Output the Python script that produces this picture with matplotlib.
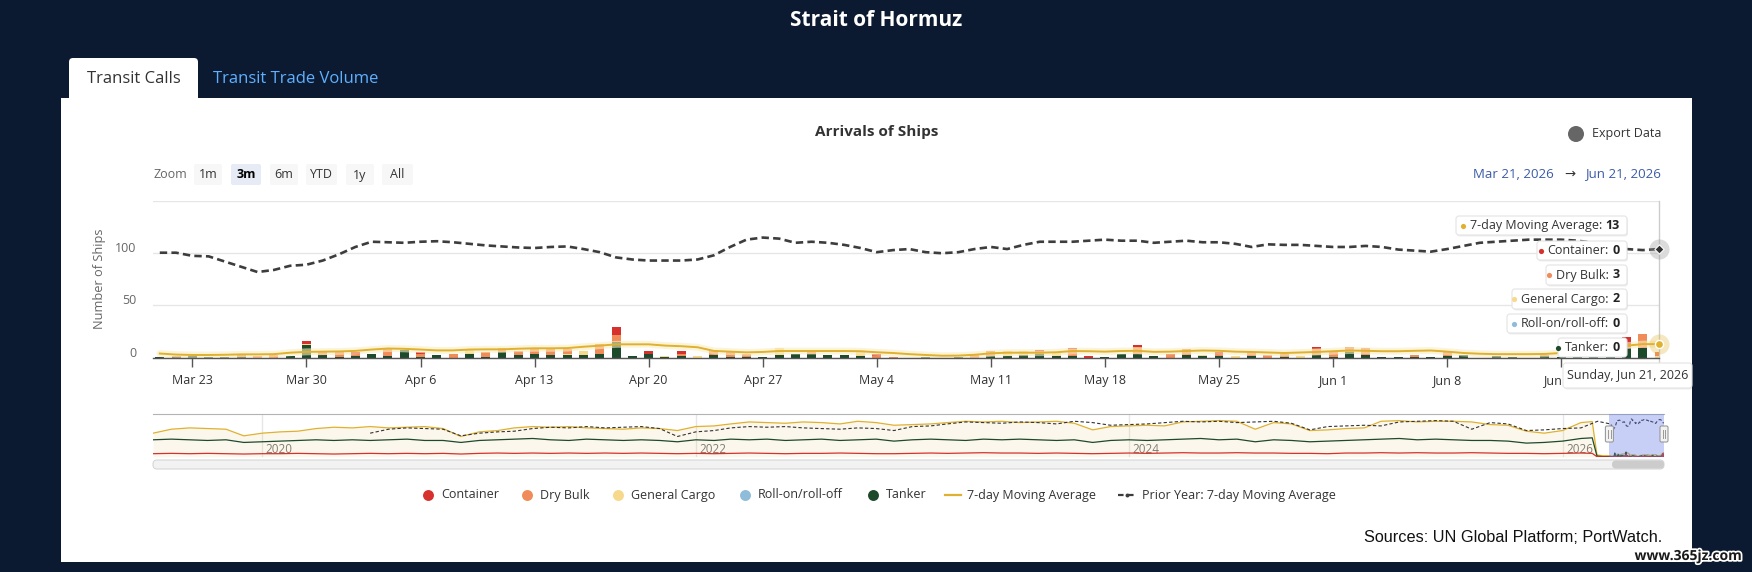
import numpy as np
import pandas as pd
import matplotlib
matplotlib.use("Agg")
import matplotlib.pyplot as plt
import matplotlib.dates as mdates
from matplotlib.patches import FancyBboxPatch, Rectangle, Circle
from matplotlib import patheffects as pe
from matplotlib.transforms import ScaledTranslation

plt.rcParams['font.family'] = ['Open Sans', 'DejaVu Sans']

W, H = 1752, 572

# daily arrivals, Mar 21 - Jun 21 2026
days = pd.date_range("2026-03-21", "2026-06-21", freq="D")

tanker = [1, 1, 2, 1, 1, 1, 0, 0, 2, 12,
          3, 1, 2, 4, 2, 7, 1, 3, 0, 4,
          1, 5, 3, 4, 3, 3, 3, 4, 15, 2,
          4, 1, 2, 0, 3, 1, 1, 1, 3, 4,
          4, 3, 3, 2, 0, 0, 0, 1, 0, 1,
          0, 2, 2, 3, 4, 2, 2, 0, 1, 4,
          4, 2, 0, 3, 2, 2, 0, 2, 0, 1,
          0, 3, 1, 5, 3, 1, 1, 1, 1, 2,
          3, 0, 2, 1, 0, 2, 1, 2, 3, 5,
          9, 9, 0]
roro = [0, 0, 0, 0, 0, 0, 0, 0, 0, 0,
        0, 0, 0, 0, 0, 0, 0, 0, 0, 0,
        0, 0, 0, 0, 0, 0, 0, 0, 0, 0,
        0, 0, 0, 0, 0, 0, 0, 0, 0, 0,
        0, 0, 0, 0, 0, 0, 0, 0, 0, 0,
        0, 0, 0, 0, 0, 0, 0, 0, 0, 0,
        0, 0, 0, 0, 0, 0, 0, 0, 0, 0,
        0, 0, 0, 0, 0, 0, 0, 0, 0, 0,
        0, 0, 0, 0, 0, 0, 0, 0, 0, 0,
        0, 0, 0]
general_cargo = [0, 0, 0, 0, 0, 0, 0, 0, 0, 1,
                 0, 0, 0, 0, 0, 0, 0, 0, 0, 3,
                 0, 0, 0, 0, 0, 1, 3, 0, 0, 0,
                 0, 1, 0, 2, 0, 0, 0, 0, 6, 0,
                 0, 0, 0, 3, 0, 0, 0, 0, 0, 0,
                 0, 0, 4, 3, 0, 3, 0, 0, 0, 0,
                 0, 0, 0, 0, 1, 0, 2, 0, 0, 0,
                 2, 0, 0, 0, 0, 0, 0, 0, 0, 0,
                 0, 0, 0, 0, 0, 0, 0, 0, 0, 0,
                 0, 0, 2]
dry_bulk = [0, 1, 0, 0, 0, 3, 2, 3, 0, 0,
            2, 5, 2, 0, 7, 0, 3, 0, 4, 0,
            4, 4, 3, 4, 5, 4, 0, 9, 7, 0,
            0, 0, 2, 0, 4, 4, 3, 0, 0, 0,
            1, 0, 0, 0, 2, 1, 0, 0, 0, 0,
            3, 4, 0, 0, 2, 0, 6, 0, 0, 0,
            6, 0, 3, 5, 0, 2, 0, 3, 3, 3,
            0, 5, 4, 5, 6, 0, 0, 2, 0, 3,
            0, 0, 0, 0, 0, 1, 0, 1, 2, 2,
            1, 14, 3]
container = [0, 0, 0, 0, 0, 0, 0, 0, 0, 3,
             1, 0, 1, 0, 0, 0, 1, 0, 0, 0,
             0, 0, 0, 1, 0, 0, 0, 0, 7, 0,
             2, 0, 2, 0, 0, 0, 0, 0, 0, 0,
             0, 0, 0, 0, 2, 0, 0, 0, 0, 0,
             0, 0, 0, 0, 1, 0, 1, 2, 0, 0,
             2, 0, 1, 0, 0, 1, 0, 0, 0, 0,
             0, 2, 0, 0, 0, 0, 0, 0, 0, 1,
             0, 0, 0, 0, 0, 0, 0, 0, 0, 1,
             10, 0, 0]
moving_avg = [4, 3, 2.6, 2.6, 2.8, 3.2, 3.2, 3.4, 4.8, 5.6,
              5.8, 6, 6.5, 7.8, 8.8, 8.5, 7.8, 7, 7, 7.8,
              8, 8, 8.6, 9, 9, 9.2, 10.5, 11.5, 12.8, 12.8,
              12.8, 11.6, 11, 10, 6.5, 5.8, 5.1, 5.5, 6.4, 6.4,
              6.4, 6.4, 6.4, 6.2, 5.2, 4.5, 3.4, 2.6, 1.9, 2,
              2.8, 4.2, 4.8, 4.8, 4.8, 5.2, 6.4, 6.2, 5.8, 6.4,
              6.6, 5.6, 5.8, 6.4, 6.9, 6.6, 5.8, 5.5, 5, 4.5,
              5, 5.5, 6.2, 6.9, 6.6, 6.2, 6.2, 6.6, 6.9, 5.8,
              4.5, 3.8, 3.4, 3.4, 3.4, 3.6, 4.5, 6, 8, 10,
              11.5, 13, 13]
prior_year_avg = [100.5, 100.5, 97.5, 97, 92, 87, 82, 84, 88, 89,
                  93, 99, 106, 111, 110.5, 110, 111, 111.5, 110.5, 109,
                  107.5, 106.5, 105.5, 105, 106, 106.5, 104, 101, 96, 94,
                  93, 93, 93, 94, 98, 106, 113, 115, 114, 110,
                  111, 110, 108, 105, 101, 103, 104, 101, 100, 101,
                  104, 106, 104, 108, 111, 111, 111, 112, 113, 112,
                  112, 110, 111, 112, 110.5, 110.5, 109, 106, 108.5, 108,
                  108, 107, 106, 106, 107, 106, 103.5, 102.5, 101.5, 104,
                  107, 110, 111, 112, 113, 113, 113, 112, 110, 107,
                  104, 103, 104]

# navigator history, monthly Jul 2019 - Feb 2026
nav_months = pd.date_range("2019-07-01", periods=80, freq="MS")
nav_total = [72, 84, 88, 86, 84, 64,
             72, 76, 78, 86, 90, 88, 92, 88, 90, 92, 86, 62,
             76, 80, 88, 92, 90, 92, 88, 86, 84, 88, 86, 80,
             92, 94, 100, 106, 104, 102, 106, 104, 100, 108, 104, 96,
             98, 100, 104, 108, 106, 108, 104, 106, 108, 102, 82, 92,
             94, 96, 94, 106, 108, 110, 108, 84, 104, 100, 80, 82,
             86, 88, 108, 110, 106, 108, 108, 106, 98, 96, 78, 72,
             80, 104]
nav_tanker = [52, 54, 52, 50, 52, 44,
              46, 48, 50, 52, 50, 52, 50, 52, 54, 50, 50, 44,
              50, 52, 54, 56, 52, 50, 54, 52, 50, 52, 50, 46,
              52, 50, 54, 52, 54, 50, 52, 54, 50, 52, 54, 48,
              52, 54, 52, 50, 54, 52, 54, 52, 50, 52, 44, 50,
              52, 50, 52, 54, 56, 52, 54, 46, 52, 50, 46, 48,
              50, 52, 54, 56, 52, 54, 52, 50, 50, 48, 42, 44,
              48, 56]
nav_container = [10, 11, 10, 11, 10, 9,
                 10, 10, 11, 10, 9, 10, 11, 10, 11, 10, 11, 9,
                 11, 12, 11, 12, 11, 12, 11, 12, 11, 12, 11, 10,
                 11, 10, 11, 12, 11, 10, 11, 11, 12, 11, 10, 10,
                 11, 12, 11, 12, 13, 12, 12, 11, 12, 11, 10, 11,
                 12, 11, 12, 13, 12, 12, 13, 12, 12, 11, 11, 10,
                 12, 12, 13, 12, 13, 12, 12, 13, 12, 11, 11, 10,
                 11, 12]
nav_tail_dates = pd.to_datetime(["2026-02-20", "2026-02-28", "2026-03-10"])
nav_tail_total = [107, 6, 4]
nav_tail_tanker = [58, 3, 1]
nav_tail_container = [11, 1, 0]

week_ticks = pd.date_range("2026-03-23", "2026-06-15", freq="7D")
year_ticks = ["2020-01-01", "2022-01-01", "2024-01-01", "2026-01-01"]
zoom_buttons = ["1m", "3m", "6m", "YTD", "1y", "All"]

NAVY = "#0b1a30"
C_CONT = "#d7312e"
C_DRY = "#ef8c59"
C_GEN = "#f6d98c"
C_RORO = "#8fbcd9"
C_TANK = "#1d4a2b"
C_MA = "#e0b12e"
C_PRIOR = "#3d3d3d"

fig = plt.figure(figsize=(W / 100, H / 100), dpi=100, facecolor=NAVY)
renderer = fig.canvas.get_renderer()


def px_axes(x0, y0, x1, y1, z):
    return fig.add_axes([x0 / W, 1 - y1 / H, (x1 - x0) / W, (y1 - y0) / H], zorder=z)


def overlay(z):
    a = fig.add_axes([0, 0, 1, 1], zorder=z)
    a.set_xlim(0, W)
    a.set_ylim(H, 0)
    a.axis("off")
    return a


bg = overlay(0)
top = overlay(10)

# page frame
bg.add_patch(Rectangle((61, 98), 1631, 464, fc="white", ec="none"))
bg.add_patch(FancyBboxPatch((69, 58), 129, 50, boxstyle="round,pad=0,rounding_size=4", fc="white", ec="none"))
bg.text(133.5, 79, "Transit Calls", ha="center", va="center", fontsize=12, color="#333333")
bg.text(296, 79, "Transit Trade Volume", ha="center", va="center", fontsize=12, color="#5fb0ff")
bg.text(876, 21, "Strait of Hormuz", ha="center", va="center", fontsize=15, fontweight="bold", color="white")

bg.text(877, 132, "Arrivals of Ships", ha="center", va="center", fontsize=11, fontweight="bold", color="#333333")
bg.add_patch(Circle((1576, 134), 8, fc="#666666", ec="none"))
bg.text(1592, 134, "Export Data", ha="left", va="center", fontsize=9, color="#333333")

bg.text(153, 175, "Zoom", ha="left", va="center", fontsize=9, color="#666666")
btn_x = [(194, 222), (231, 261), (270, 298), (306, 337), (346, 374), (382, 413)]
for label, (x0, x1) in zip(zoom_buttons, btn_x):
    sel = label == "3m"
    bg.add_patch(FancyBboxPatch((x0, 164), x1 - x0, 21, boxstyle="round,pad=0,rounding_size=2",
                                fc="#e6ebf5" if sel else "#f7f7f7", ec="none"))
    bg.text((x0 + x1) / 2, 175, label, ha="center", va="center", fontsize=9,
            fontweight="bold" if sel else "normal", color="#000000" if sel else "#333333")

# date range, laid out right to left
t_end = bg.text(1661, 174, f"{days[-1]:%b} {days[-1].day}, {days[-1].year}", ha="right", va="center",
                fontsize=9.5, color="#3a5ba8")
x_left = t_end.get_window_extent(renderer).x0
t_arrow = bg.text(x_left - 10, 174, "\u2192", ha="right", va="center", fontsize=9.5, color="#333333")
x_left = t_arrow.get_window_extent(renderer).x0
bg.text(x_left - 10, 174, f"{days[0]:%b} {days[0].day}, {days[0].year}", ha="right", va="center",
        fontsize=9.5, color="#3a5ba8")

bg.text(100, 279, "Number of Ships", rotation=90, ha="center", va="center", fontsize=9.2, color="#666666")

# main chart
ax = px_axes(153, 201, 1659, 357.7, 2)
ax.patch.set_alpha(0)
bottom = np.zeros(len(days))
for vals, color in [(tanker, C_TANK), (roro, C_RORO), (general_cargo, C_GEN), (dry_bulk, C_DRY), (container, C_CONT)]:
    v = np.array(vals, dtype=float)
    ax.bar(days, v, width=0.55, bottom=bottom, color=color, linewidth=0, zorder=2)
    bottom += v

ax.plot(days, moving_avg, color="#fbeec0", lw=5, alpha=0.6, zorder=2.5, solid_capstyle="round")
ax.plot(days, moving_avg, color=C_MA, lw=1.4, zorder=3)
ax.plot(days, prior_year_avg, color=C_PRIOR, lw=1.9, ls=(0, (2.8, 1.6)), zorder=3)

ax.axvline(days[-1], ymin=-0.07, ymax=1, color="#cccccc", lw=1, clip_on=False, zorder=1)
ax.scatter([days[-1]], [prior_year_avg[-1]], s=210, color="#999999", alpha=0.35, linewidths=0, clip_on=False, zorder=4)
ax.scatter([days[-1]], [prior_year_avg[-1]], s=22, marker="D", color="#333333", edgecolors="white", linewidths=0.8, clip_on=False, zorder=5)
ax.scatter([days[-1]], [moving_avg[-1]], s=210, color=C_MA, alpha=0.3, linewidths=0, clip_on=False, zorder=4)
ax.scatter([days[-1]], [moving_avg[-1]], s=34, color=C_MA, edgecolors="white", linewidths=1, clip_on=False, zorder=5)

ax.set_xlim(days[0] - pd.Timedelta(hours=10), days[-1])
ax.set_ylim(0, 150)
ax.set_yticks([0, 50, 100, 150])
ax.set_yticklabels(["0", "50", "100", ""])
ax.set_xticks(week_ticks)
ax.set_xticklabels([f"{d:%b} {d.day}" for d in week_ticks])
ax.grid(axis="y", color="#e6e6e6", lw=1, zorder=0)
ax.set_axisbelow(True)
for s in ["top", "right", "left"]:
    ax.spines[s].set_visible(False)
ax.spines["bottom"].set_color("#555555")
ax.spines["bottom"].set_linewidth(1)
ax.tick_params(axis="x", length=6.5, width=1, color="#555555", pad=5, labelsize=9, labelcolor="#333333")
ax.tick_params(axis="y", length=0, pad=12, labelsize=9, labelcolor="#666666")
for lbl in ax.get_yticklabels():
    lbl.set_transform(lbl.get_transform() + ScaledTranslation(0, 0.06, fig.dpi_scale_trans))

# navigator
nav = px_axes(153, 414, 1664, 457, 2)
nav.patch.set_alpha(0)
nav.set_xlim(pd.Timestamp("2019-07-01"), days[-1])
nav.set_ylim(0, 130)
nav.set_xticks([])
nav.set_yticks([])
for s in ["bottom", "right", "left"]:
    nav.spines[s].set_visible(False)
nav.spines["top"].set_color("#b3b3b3")
for y in year_ticks:
    t = pd.Timestamp(y)
    nav.axvline(t, color="#e6e6e6", lw=1, zorder=0)
    nav.text(t + pd.Timedelta(days=6), 4, y[:4], fontsize=8.5, color="#777777", va="bottom", ha="left", zorder=1)

x_total = list(nav_months) + list(nav_tail_dates) + list(days)
y_total = nav_total + nav_tail_total + moving_avg
y_tank = nav_tanker + nav_tail_tanker + tanker
y_cont = nav_container + nav_tail_container + container
prior_hist = [(d + pd.DateOffset(years=1), v) for d, v in zip(nav_months, nav_total)
              if d + pd.DateOffset(years=1) < days[0]]
x_prior = [d for d, _ in prior_hist] + list(days)
y_prior = [v for _, v in prior_hist] + prior_year_avg

nav.fill_between(x_total, y_total, color=C_MA, alpha=0.09, lw=0, zorder=1)
nav.plot(x_total, y_total, color=C_MA, lw=0.9, zorder=2)
nav.plot(x_prior, y_prior, color="#333333", lw=0.8, ls=(0, (3, 2)), zorder=2)
nav.plot(x_total, y_tank, color=C_TANK, lw=0.9, zorder=2)
nav.plot(x_total, y_cont, color=C_CONT, lw=0.9, zorder=2)
nav.axvspan(days[0], days[-1], color=(0.39, 0.47, 0.9, 0.35), lw=0, zorder=4)

for d in [days[0], days[-1]]:
    xd = nav.transData.transform((mdates.date2num(d), 0))[0]
    top.add_patch(FancyBboxPatch((xd - 4, 426), 8, 16, boxstyle="round,pad=0,rounding_size=1.5",
                                 fc="#f2f2f2", ec="#999999", lw=0.8))
    top.plot([xd - 1.3, xd - 1.3], [430, 438], color="#999999", lw=0.7)
    top.plot([xd + 1.3, xd + 1.3], [430, 438], color="#999999", lw=0.7)

bg.add_patch(FancyBboxPatch((153, 460), 1511, 9, boxstyle="round,pad=0,rounding_size=4",
                            fc="#f2f2f2", ec="#d6d6d6", lw=0.8))
bg.add_patch(FancyBboxPatch((1612, 460.5), 52, 8, boxstyle="round,pad=0,rounding_size=4",
                            fc="#cccccc", ec="none"))

# legend
legend_items = [("Container", C_CONT, 428), ("Dry Bulk", C_DRY, 527), ("General Cargo", C_GEN, 618),
                ("Roll-on/roll-off", C_RORO, 745), ("Tanker", C_TANK, 873)]
for name, color, x in legend_items:
    bg.scatter([x], [495], s=62, color=color, linewidths=0)
    bg.text(x + 13, 495, name, ha="left", va="center", fontsize=9, color="#333333")
bg.plot([945, 961], [495, 495], color=C_MA, lw=1.6)
bg.text(967, 495, "7-day Moving Average", ha="left", va="center", fontsize=9, color="#333333")
bg.plot([1118, 1135], [495, 495], color=C_PRIOR, lw=1.6, ls=(0, (2.5, 2)))
bg.scatter([1126.5], [495], s=8, color=C_PRIOR, linewidths=0)
bg.text(1142, 495, "Prior Year: 7-day Moving Average", ha="left", va="center", fontsize=9, color="#333333")

bg.text(1662, 537, "Sources: UN Global Platform; PortWatch.", ha="right", va="center", fontsize=11.7,
        family=["Liberation Sans", "DejaVu Sans"], color="#111111")


# tooltips
def box(x0, y0, x1, y1):
    top.add_patch(FancyBboxPatch((x0 + 1, y0 + 1.5), x1 - x0, y1 - y0, boxstyle="round,pad=0,rounding_size=3",
                                 fc="black", alpha=0.07, ec="none"))
    top.add_patch(FancyBboxPatch((x0, y0), x1 - x0, y1 - y0, boxstyle="round,pad=0,rounding_size=3",
                                 fc="white", ec="#e4e4e4", lw=0.8))


tips = [((1456, 216, 1627, 235), C_MA, "7-day Moving Average", moving_avg[-1]),
        ((1537, 241, 1627, 260), C_CONT, "Container", container[-1]),
        ((1546, 265, 1627, 285), C_DRY, "Dry Bulk", dry_bulk[-1]),
        ((1512, 289, 1627, 309), C_GEN, "General Cargo", general_cargo[-1]),
        ((1507, 314, 1627, 333), C_RORO, "Roll-on/roll-off", roro[-1]),
        ((1558, 338, 1627, 357), C_TANK, "Tanker", tanker[-1])]
for (x0, y0, x1, y1), color, name, val in tips:
    box(x0, y0, x1, y1)
    yc = (y0 + y1) / 2
    tv = top.text(x1 - 7, yc, f"{val:g}", ha="right", va="center", fontsize=9, fontweight="bold", color="#222222")
    e1 = tv.get_window_extent(renderer)
    tn = top.text(e1.x0 - 4, yc, f"{name}:", ha="right", va="center", fontsize=9, color="#333333")
    e2 = tn.get_window_extent(renderer)
    top.scatter([e2.x0 - 7], [yc], s=14, color=color, linewidths=0)

box(1563, 363, 1692, 388)
top.text(1627.5, 375.5, f"{days[-1]:%A}, {days[-1]:%b} {days[-1].day}, {days[-1].year}",
         ha="center", va="center", fontsize=9, color="#333333")

top.text(1688, 556, "www.365jz.com", ha="center", va="center", fontsize=10, fontweight="bold", color="#1a1a1a",
         path_effects=[pe.withStroke(linewidth=2.5, foreground="white")])

fig.savefig("out.png", dpi=100, facecolor=NAVY)
